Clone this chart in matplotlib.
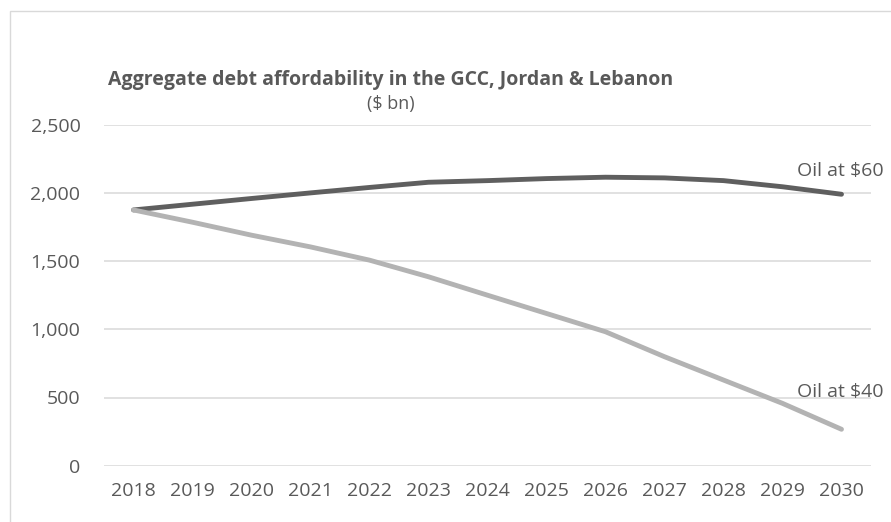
import matplotlib
matplotlib.use("Agg")
import matplotlib.pyplot as plt
from matplotlib.patches import Rectangle

# дані
years = ["2018", "2019", "2020", "2021", "2022", "2023", "2024",
         "2025", "2026", "2027", "2028", "2029", "2030"]
oil_60 = [1875, 1917, 1959, 2000, 2040, 2078, 2090, 2105, 2115, 2110, 2090, 2045, 1990]
oil_40 = [1875, 1785, 1690, 1604, 1507, 1385, 1250, 1116, 982, 799, 628, 457, 267]
yticks = [0, 500, 1000, 1500, 2000, 2500]

txt = "#595959"
plt.rcParams['font.family'] = ['Open Sans', 'DejaVu Sans']

fig = plt.figure(figsize=(8.91, 5.22), dpi=100)
W, H = 891, 522

# рамка діаграми
fig.patches.append(Rectangle((10 / W, -0.1), 1.2, 1 - 11 / H + 0.1,
                             transform=fig.transFigure, fill=False,
                             edgecolor="#d9d9d9", linewidth=1.0))

ax = fig.add_axes([104 / W, 1 - 465.7 / H, (871 - 104) / W, (465.7 - 124.7) / H])
x = range(len(years))
ax.plot(x, oil_60, color="#5f5f5f", linewidth=3.5, solid_capstyle="round", zorder=3)
ax.plot(x, oil_40, color="#b3b3b3", linewidth=3.5, solid_capstyle="round", zorder=3)

ax.set_xlim(-0.5, len(years) - 0.5)
ax.set_ylim(0, 2500)
ax.set_yticks(yticks)
ax.set_yticklabels([f"{v:,}" for v in yticks])
ax.set_xticks(list(x))
ax.set_xticklabels(years)
ax.tick_params(axis="both", length=0, labelsize=14, colors=txt)
ax.tick_params(axis="y", pad=17)
ax.tick_params(axis="x", pad=12)
ax.grid(axis="y", color="#d9d9d9", linewidth=1.1)
ax.set_axisbelow(True)
for s in ax.spines.values():
    s.set_visible(False)

ax.annotate("Oil at $60", (len(years) - 1, oil_60[-1]), xytext=(-32, 17),
            textcoords="offset points", fontsize=14, color=txt,
            ha="left", va="center", annotation_clip=False)
ax.annotate("Oil at $40", (len(years) - 1, oil_40[-1]), xytext=(-32, 27),
            textcoords="offset points", fontsize=14, color=txt,
            ha="left", va="center", annotation_clip=False)

fig.text(391 / W, 1 - 80 / H, "Aggregate debt affordability in the GCC, Jordan & Lebanon",
         ha="center", va="center", fontsize=14, fontweight="bold", color=txt)
fig.text(391 / W, 1 - 104 / H, "($ bn)", ha="center", va="center",
         fontsize=13, color=txt)

fig.savefig("out.png", dpi=100)
